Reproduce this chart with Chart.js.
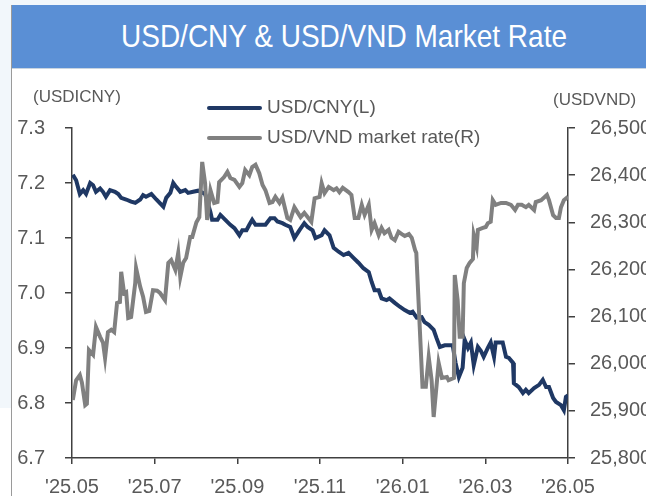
<!DOCTYPE html>
<html>
<head>
<meta charset="utf-8">
<script src="https://cdn.jsdelivr.net/npm/chart.js@4.4.1/dist/chart.umd.min.js"></script>
<style>
    html, body { margin: 0; padding: 0; width: 646px; height: 496px; overflow: hidden; background: #f2f7fb; }
    #card { position: absolute; left: 11px; top: 5px; width: 640px; height: 491px; background: #fff; border-left: 1px solid #9a9a9a; }
    #title { position: absolute; left: 0; top: 0; width: 640px; height: 63px; background: #5a8fd5; border-bottom: 1px solid #c8d4e0;
             color: #fff; font-family: "Liberation Sans", sans-serif; font-size: 28px; line-height: 63px; text-align: center; text-indent: 12px; }
    #title span { display: inline-block; transform: scaleY(1.1); }
    #wrap { position: absolute; left: 0; top: 70px; width: 660px; height: 426px; }
    .axisTitle { position: absolute; font-family: "Liberation Sans", sans-serif; font-size: 17px; color: #595959; }
    #legend { position: absolute; left: 207px; top: 94px; font-family: "Liberation Sans", sans-serif; font-size: 19px; color: #595959; }
    .item { height: 30px; line-height: 26px; white-space: nowrap; }
    .swatch { display: inline-block; width: 55px; height: 4px; vertical-align: middle; margin-right: 5px; border-radius: 2px; }
    #strip { position: absolute; left: 0; top: 408px; width: 11px; height: 88px; background: #fff; }
</style>
</head>
<body>
<div id="strip"></div>
<div id="card"><div id="title"><span>USD/CNY &amp; USD/VND Market Rate</span></div></div>
<div id="wrap"><canvas id="rateChart"></canvas></div>
<div class="axisTitle" style="left:33px; top:87px;">(USDICNY)</div>
<div class="axisTitle" style="left:553px; top:90px;">(USDVND)</div>
<div id="legend">
    <div class="item"><span class="swatch" style="background:#1f3864"></span>USD/CNY(L)</div>
    <div class="item"><span class="swatch" style="background:#808080"></span>USD/VND market rate(R)</div>
</div>
<script>
// x = months since May 2025
const tickLabels = ["'25.05", "'25.07", "'25.09", "'25.11", "'26.01", "'26.03", "'26.05"];

const cnyMonths = [0.02, 0.10, 0.19, 0.27, 0.34, 0.44, 0.51, 0.58, 0.68, 0.75, 0.82, 0.92, 1.04, 1.12, 1.19, 1.31, 1.43, 1.53, 1.65, 1.72,
    1.79, 1.92, 2.04, 2.21, 2.28, 2.38, 2.45, 2.52, 2.62, 2.74, 2.81, 2.93, 3.05, 3.22, 3.35, 3.39, 3.52, 3.59, 3.71, 3.83,
    3.93, 4.05, 4.12, 4.22, 4.29, 4.36, 4.44, 4.56, 4.68, 4.80, 4.90, 4.97, 5.09, 5.16, 5.28, 5.38, 5.50, 5.62, 5.70, 5.82,
    5.89, 6.04, 6.11, 6.23, 6.33, 6.45, 6.57, 6.69, 6.81, 6.93, 7.05, 7.18, 7.25, 7.32, 7.42, 7.49, 7.61, 7.68, 7.81, 7.93,
    8.05, 8.17, 8.24, 8.34, 8.46, 8.53, 8.63, 8.75, 8.82, 8.90, 9.02, 9.21, 9.28, 9.36, 9.45, 9.50, 9.58, 9.65, 9.72, 9.82,
    9.89, 9.96, 10.06, 10.13, 10.21, 10.25, 10.35, 10.42, 10.50, 10.57, 10.67, 10.69, 10.81, 10.91, 10.98, 11.05, 11.18, 11.30, 11.39, 11.47,
    11.54, 11.64, 11.71, 11.83, 11.90, 11.95, 12.00];
const cnyRates = [7.215, 7.205, 7.180, 7.187, 7.180, 7.200, 7.196, 7.184, 7.190, 7.184, 7.175, 7.187, 7.184, 7.180, 7.173, 7.170, 7.166, 7.164, 7.170, 7.178,
    7.175, 7.180, 7.170, 7.157, 7.173, 7.182, 7.200, 7.193, 7.184, 7.187, 7.182, 7.184, 7.186, 7.180, 7.147, 7.133, 7.133, 7.142, 7.133, 7.124,
    7.118, 7.105, 7.114, 7.114, 7.124, 7.133, 7.124, 7.124, 7.124, 7.136, 7.136, 7.130, 7.127, 7.124, 7.120, 7.100, 7.114, 7.127, 7.120, 7.114,
    7.100, 7.105, 7.114, 7.105, 7.082, 7.075, 7.069, 7.073, 7.064, 7.055, 7.045, 7.038, 7.020, 7.005, 7.005, 6.990, 6.987, 6.990, 6.982, 6.975,
    6.969, 6.964, 6.966, 6.955, 6.956, 6.947, 6.942, 6.933, 6.918, 6.902, 6.905, 6.905, 6.873, 6.847, 6.864, 6.915, 6.900, 6.910, 6.869, 6.902,
    6.895, 6.884, 6.900, 6.910, 6.884, 6.910, 6.910, 6.910, 6.884, 6.882, 6.873, 6.836, 6.829, 6.818, 6.824, 6.818, 6.827, 6.833, 6.842, 6.829,
    6.829, 6.809, 6.802, 6.796, 6.787, 6.811, 6.814];

const vndMonths = [0.02, 0.10, 0.19, 0.24, 0.32, 0.36, 0.41, 0.51, 0.58, 0.68, 0.75, 0.80, 0.87, 0.95, 1.02, 1.09, 1.16, 1.19, 1.26, 1.31,
    1.36, 1.43, 1.53, 1.55, 1.65, 1.72, 1.79, 1.87, 1.96, 2.06, 2.13, 2.25, 2.33, 2.40, 2.50, 2.57, 2.62, 2.69, 2.76, 2.86,
    2.91, 3.01, 3.08, 3.15, 3.22, 3.27, 3.35, 3.44, 3.52, 3.56, 3.68, 3.76, 3.83, 3.93, 4.05, 4.12, 4.19, 4.29, 4.36, 4.44,
    4.53, 4.61, 4.68, 4.78, 4.85, 4.92, 5.02, 5.09, 5.21, 5.28, 5.38, 5.45, 5.53, 5.62, 5.70, 5.79, 5.87, 5.99, 6.04, 6.11,
    6.21, 6.33, 6.40, 6.47, 6.55, 6.69, 6.76, 6.84, 6.93, 7.01, 7.08, 7.18, 7.25, 7.32, 7.42, 7.49, 7.56, 7.66, 7.73, 7.81,
    7.90, 7.98, 8.05, 8.15, 8.22, 8.30, 8.33, 8.48, 8.56, 8.63, 8.70, 8.75, 8.87, 8.95, 9.07, 9.11, 9.24, 9.26, 9.33, 9.38,
    9.45, 9.48, 9.55, 9.62, 9.70, 9.72, 9.79, 9.82, 9.94, 10.01, 10.06, 10.13, 10.18, 10.25, 10.38, 10.50, 10.62, 10.72, 10.79, 10.88,
    10.98, 11.05, 11.18, 11.22, 11.35, 11.49, 11.54, 11.64, 11.71, 11.78, 11.83, 11.90, 12.00];
const vndRates = [25923, 25965, 25976, 25960, 25912, 25915, 26029, 26019, 26078, 26057, 26045, 26012, 26067, 26072, 26067, 26129, 26131, 26195, 26150, 26152,
    26097, 26099, 26171, 26203, 26163, 26142, 26110, 26112, 26156, 26155, 26150, 26135, 26214, 26220, 26199, 26235, 26184, 26214, 26224, 26269,
    26269, 26300, 26311, 26428, 26383, 26305, 26368, 26341, 26343, 26385, 26396, 26407, 26394, 26390, 26375, 26383, 26411, 26400, 26417, 26422,
    26404, 26379, 26368, 26341, 26343, 26354, 26341, 26352, 26309, 26305, 26332, 26322, 26311, 26320, 26311, 26301, 26351, 26354, 26383, 26362,
    26375, 26368, 26372, 26364, 26373, 26364, 26358, 26309, 26309, 26337, 26316, 26337, 26284, 26298, 26273, 26288, 26277, 26284, 26267, 26262,
    26280, 26275, 26271, 26275, 26267, 26241, 26235, 25951, 25951, 26014, 25965, 25887, 26002, 25970, 25972, 25965, 25970, 26188, 26135, 26057,
    26057, 26171, 26203, 26214, 26222, 26273, 26248, 26284, 26288, 26290, 26298, 26301, 26347, 26337, 26341, 26341, 26337, 26326, 26337, 26337,
    26332, 26337, 26326, 26343, 26347, 26358, 26347, 26315, 26309, 26309, 26332, 26347, 26354];

const axisColor = '#404040';
const labelFont = { family: 'Liberation Sans', size: 20 };

function toPoints(xs, ys) {
    return xs.map((x, i) => ({ x: x, y: ys[i] }));
}

const ctx = document.getElementById('rateChart').getContext('2d');
new Chart(ctx, {
    type: 'line',
    data: {
        datasets: [
            {
                label: 'USD/CNY(L)',
                data: toPoints(cnyMonths, cnyRates),
                borderColor: '#1f3864',
                borderWidth: 4,
                pointRadius: 0,
                tension: 0,
                yAxisID: 'y',
                order: 1
            },
            {
                label: 'USD/VND market rate(R)',
                data: toPoints(vndMonths, vndRates),
                borderColor: '#808080',
                borderWidth: 4,
                pointRadius: 0,
                tension: 0,
                yAxisID: 'y1',
                order: 0
            }
        ]
    },
    options: {
        responsive: true,
        maintainAspectRatio: false,
        animation: false,
        layout: { padding: { top: 58, bottom: 0, left: 0, right: 0 } },
        plugins: { legend: { display: false }, tooltip: { enabled: false } },
        scales: {
            x: {
                type: 'linear',
                min: 0,
                max: 12,
                grid: { drawOnChartArea: false, color: axisColor, tickLength: 6, lineWidth: 1.5 },
                border: { color: axisColor, width: 1.5 },
                ticks: {
                    stepSize: 2,
                    padding: 11,
                    color: '#595959',
                    font: labelFont,
                    maxRotation: 0,
                    callback: v => tickLabels[v / 2]
                },
                afterFit: s => { s.height = 38; }
            },
            y: {
                position: 'left',
                min: 6.7,
                max: 7.3,
                grid: { drawOnChartArea: false, color: axisColor, tickLength: 7, lineWidth: 1.5 },
                border: { color: axisColor, width: 1.5 },
                ticks: { stepSize: 0.1, padding: 20, color: '#595959', font: labelFont, callback: v => v.toFixed(1) },
                afterFit: s => { s.width = 72; }
            },
            y1: {
                position: 'right',
                min: 25800,
                max: 26500,
                grid: { drawOnChartArea: false, color: axisColor, tickLength: 7, lineWidth: 1.5 },
                border: { color: axisColor, width: 1.5 },
                ticks: { stepSize: 100, padding: 15, color: '#595959', font: labelFont, callback: v => v.toLocaleString('en-US') },
                afterFit: s => { s.width = 92; }
            }
        }
    }
});
</script>
</body>
</html>
